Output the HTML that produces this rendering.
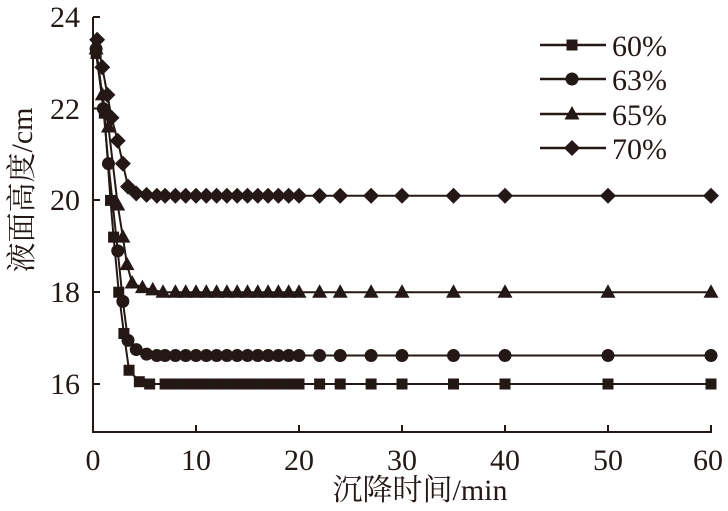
<!DOCTYPE html>
<html><head><meta charset="utf-8"><style>
html,body{margin:0;padding:0;background:#fff;}
svg{display:block;}
.n{font-family:"Liberation Serif","Times New Roman",serif;fill:#231815;}
.c{font-family:"Liberation Serif","Noto Serif CJK SC",serif;fill:#231815;}
</style></head><body>
<svg id="s" width="728" height="511" xmlns="http://www.w3.org/2000/svg">
<g stroke="#231815" stroke-width="2" fill="none">
<line x1="93" y1="17" x2="93" y2="432"/>
<line x1="92" y1="432" x2="712" y2="432"/>
<line x1="93" y1="17" x2="100" y2="17"/>
<line x1="93" y1="108.5" x2="100" y2="108.5"/>
<line x1="93" y1="200" x2="100" y2="200"/>
<line x1="93" y1="292" x2="100" y2="292"/>
<line x1="93" y1="384" x2="100" y2="384"/>
<line x1="196" y1="432" x2="196" y2="425"/>
<line x1="299" y1="432" x2="299" y2="425"/>
<line x1="402" y1="432" x2="402" y2="425"/>
<line x1="505" y1="432" x2="505" y2="425"/>
<line x1="608" y1="432" x2="608" y2="425"/>
<line x1="711" y1="432" x2="711" y2="425"/>
</g>
<g class="n" font-family="Liberation Serif" font-size="30" text-anchor="end">
<text x="80" y="27">24</text><text x="80" y="119">22</text><text x="80" y="210">20</text>
<text x="80" y="302">18</text><text x="80" y="394">16</text>
</g>
<g class="n" font-family="Liberation Serif" font-size="30" text-anchor="middle">
<text x="93" y="470">0</text><text x="196" y="470">10</text><text x="299" y="470">20</text>
<text x="402" y="470">30</text><text x="505" y="470">40</text><text x="608" y="470">50</text><text x="708" y="470">60</text>
</g>
<text class="c" x="420" y="500" font-size="30" text-anchor="middle">沉降时间/min</text>
<text class="c" transform="translate(32,190) rotate(-90)" font-size="30" text-anchor="middle">液面高度/cm</text>
<g id="d"></g>
<g class="n" font-family="Liberation Serif" font-size="30">
<text x="612" y="56">60%</text><text x="612" y="90">63%</text>
<text x="612" y="125">65%</text><text x="612" y="159">70%</text>
</g>
</svg>
<script>
const X=t=>93+t*10.3, Y=v=>384-(v-16)*45.9;
const tail=[22,24,27,30,35,40,50,60];
function mk(type,x,y){
 if(type==0)return `<rect x="${x-5.5}" y="${y-5.5}" width="11" height="11"/>`;
 if(type==1)return `<circle cx="${x}" cy="${y}" r="6.5"/>`;
 if(type==2)return `<polygon points="${x},${y-8} ${x+7.5},${y+5.5} ${x-7.5},${y+5.5}"/>`;
 return `<polygon points="${x},${y-8} ${x+8},${y} ${x},${y+8} ${x-8},${y}"/>`;
}
const series=[
 {e:[[0.3,23.2],[1.1,21.9],[1.7,20.0],[2.0,19.2],[2.5,18.0],[3.0,17.1],[3.5,16.3],[4.5,16.05],[5.5,16.0]],f:16.0},
 {e:[[0.3,23.3],[1.0,22.0],[1.5,20.8],[2.4,18.9],[2.9,17.8],[3.4,16.95],[4.2,16.75],[5.2,16.65],[6.2,16.62]],f:16.62},
 {e:[[0.3,23.3],[0.9,22.3],[1.5,21.6],[2.4,19.9],[2.9,19.2],[3.3,18.6],[3.8,18.2],[4.8,18.1],[5.8,18.05],[6.8,18.0]],f:18.0},
 {e:[[0.4,23.5],[0.9,22.9],[1.4,22.3],[1.8,21.8],[2.4,21.3],[2.9,20.8],[3.4,20.3],[4.2,20.15],[5.2,20.12],[6.2,20.1]],f:20.1}
];
let h='';
series.forEach((s,i)=>{
 let pts=s.e.slice();
 let last=pts[pts.length-1][0];
 for(let t=Math.ceil(last+0.6);t<=20;t++)pts.push([t,s.f]);
 tail.forEach(t=>pts.push([t,s.f]));
 h+=`<polyline fill="none" stroke="#231815" stroke-width="2" points="${pts.map(p=>X(p[0])+','+Y(p[1])).join(' ')}"/>`;
 h+='<g fill="#231815">'+pts.map(p=>mk(i,X(p[0]),Y(p[1]))).join('')+'</g>';
 const ly=[45,79,114,148][i];
 h+=`<line x1="540" y1="${ly}" x2="606" y2="${ly}" stroke="#231815" stroke-width="2.5"/>`;
 h+='<g fill="#231815">'+mk(i,572,ly)+'</g>';
});
document.getElementById('d').innerHTML=h;
</script>
</body></html>
